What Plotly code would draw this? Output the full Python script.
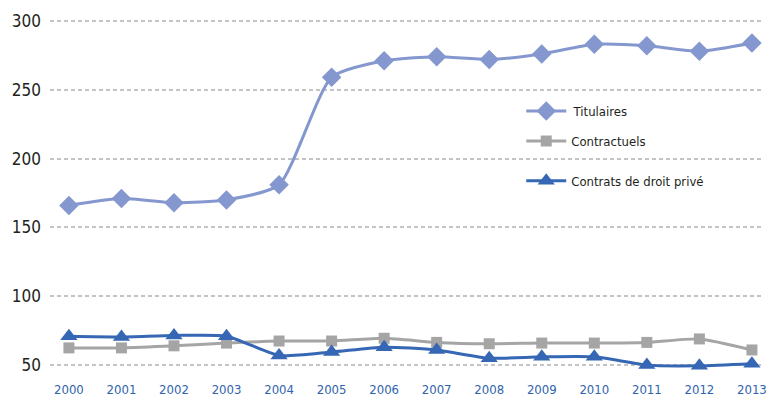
import plotly.graph_objects as go

years = list(range(2000, 2014))
titulaires = [166, 171, 168, 170, 181, 259, 271, 274, 272, 276, 283, 282, 278, 284]
contractuels = [62.5, 62.5, 64, 66, 67.5, 67.5, 69.5, 66.5, 65.5, 66, 66, 66.5, 69, 61]
droit_prive = [71, 70.5, 71.5, 71, 57, 59.5, 63, 61, 55, 56, 56, 50, 49.5, 51]
y_ticks = [50, 100, 150, 200, 250, 300]

FONT = "DejaVu Sans Condensed, Liberation Sans Narrow, sans-serif"
C_TIT = "#8497cf"
C_CON = "#a5a5a5"
C_PRI = "#3567b4"

fig = go.Figure()
fig.add_trace(go.Scatter(
    x=years, y=titulaires, name="\u2009Titulaires", mode="lines+markers",
    line=dict(color=C_TIT, width=3, shape="spline", smoothing=0.6),
    marker=dict(symbol="diamond", size=15, color=C_TIT),
    cliponaxis=False, legend="legend",
))
fig.add_trace(go.Scatter(
    x=years, y=contractuels, name="Contractuels", mode="lines+markers",
    line=dict(color=C_CON, width=3, shape="spline", smoothing=0.6),
    marker=dict(symbol="square", size=11, color=C_CON),
    cliponaxis=False, legend="legend2",
))
fig.add_trace(go.Scatter(
    x=years, y=droit_prive, name="Contrats de droit privé", mode="lines+markers",
    line=dict(color=C_PRI, width=3, shape="spline", smoothing=0.6),
    marker=dict(symbol="triangle-up", size=15, color=C_PRI),
    cliponaxis=False, legend="legend3",
))

legend_common = dict(
    xanchor="left", yanchor="middle", bgcolor="rgba(0,0,0,0)",
    font=dict(family=FONT, size=13, color="#231f20"),
    itemwidth=40,
)
fig.update_layout(
    width=767, height=398,
    margin=dict(l=50, r=0, t=14, b=26),
    paper_bgcolor="white", plot_bgcolor="white",
    showlegend=True,
    legend=dict(x=0.66, y=0.729, **legend_common),
    legend2=dict(x=0.66, y=0.645, **legend_common),
    legend3=dict(x=0.66, y=0.534, **legend_common),
    xaxis=dict(
        range=[1999.64, 2013.23], tickmode="array", tickvals=years,
        ticktext=[str(y) for y in years], showgrid=False, zeroline=False,
        showline=False, ticks="outside", ticklen=5, tickcolor="rgba(0,0,0,0)",
        ticklabeloverflow="allow",
        tickfont=dict(family=FONT, size=13, color="#2f63ad"),
    ),
    yaxis=dict(
        range=[45, 305], tickmode="array", tickvals=y_ticks,
        showgrid=True, gridcolor="#c4c4c4", gridwidth=2, griddash="4px,3px",
        zeroline=False, showline=False, ticklabelstandoff=8,
        tickfont=dict(family=FONT, size=17, color="#231f20"),
    ),
)

fig.write_html("out.html")
